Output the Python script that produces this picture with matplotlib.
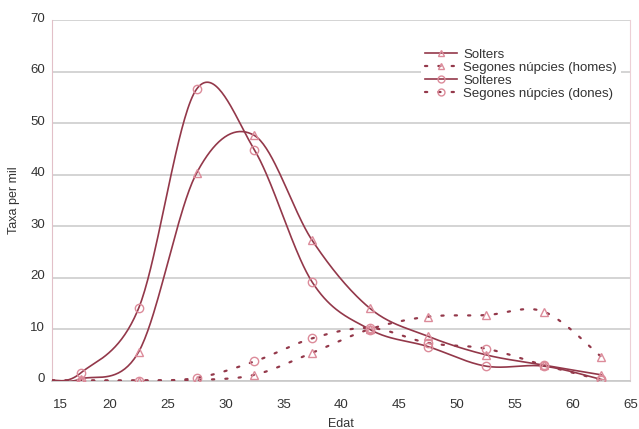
import numpy as np
import matplotlib
matplotlib.use('Agg')
import matplotlib.pyplot as plt
from matplotlib.transforms import ScaledTranslation

plt.rcParams['font.family'] = ['Liberation Sans', 'DejaVu Sans']

# edats (inclou l'inici de l'eix a 15, sense marcador)
edat = [15, 17.5, 22.5, 27.5, 32.5, 37.5, 42.5, 47.5, 52.5, 57.5, 62.5]

solters = [0, 0.3, 5.6, 40.3, 47.6, 27.2, 14.0, 8.6, 5.0, 3.0, 1.1]
segones_homes = [0, 0, 0, 0.1, 1.1, 5.4, 10.0, 12.4, 12.7, 13.4, 4.6]
solteres = [0, 1.5, 14.1, 56.6, 44.8, 19.1, 9.9, 6.6, 2.8, 2.8, 0.2]
segones_dones = [0, 0, 0, 0.5, 3.7, 8.2, 10.2, 7.3, 6.2, 3.0, 0.1]

etiquetes = ['Solters', 'Segones núpcies (homes)', 'Solteres', 'Segones núpcies (dones)']

line_col = '#93384a'
mark_col = '#dc8b9a'


def suavitza(x, y, n=40):
    # corba suavitzada tipus Excel (bezier cubic, tensio 1/6)
    p = np.column_stack([x, y]).astype(float)
    p = np.vstack([p[0], p, p[-1]])
    out = []
    t = np.linspace(0, 1, n)[:, None]
    for i in range(1, len(p) - 2):
        p0, p1 = p[i], p[i + 1]
        c1 = p0 + (p[i + 1] - p[i - 1]) / 6
        c2 = p1 - (p[i + 2] - p[i]) / 6
        seg = (1 - t)**3 * p0 + 3 * (1 - t)**2 * t * c1 + 3 * (1 - t) * t**2 * c2 + t**3 * p1
        out.append(seg)
    out = np.vstack(out)
    return out[:, 0], out[:, 1]


fig = plt.figure(figsize=(6.39, 4.29), dpi=100)
ax = fig.add_axes([0.0814, 0.113, 0.905, 0.840])

series = [(solters, '-', '^'), (segones_homes, (0, (1, 5)), '^'),
          (solteres, '-', 'o'), (segones_dones, (0, (1, 5)), 'o')]

for (vals, ls, mk), lab in zip(series, etiquetes):
    xs, ys = suavitza(edat, vals)
    lw = 1.2 if ls == '-' else 1.6
    ax.plot(xs, ys, color=line_col, lw=lw, ls=ls, dash_capstyle='round', zorder=3)
    ax.plot(edat[1:], vals[1:], ls='none', marker=mk, ms=6, mfc='none',
            mec=mark_col, mew=1.0, zorder=4)
    # entrada de llegenda
    ax.plot([], [], color=line_col, lw=lw, ls=ls, dash_capstyle='round',
            marker=mk, ms=5, mfc='none', mec=mark_col, mew=1.0, label=lab)

ax.set_xlim(15, 65)
ax.set_ylim(0, 70)
ax.set_xticks(range(15, 70, 5))
ax.set_yticks(range(0, 80, 10))
ax.grid(axis='y', color='#cdcdcd', lw=1.2, zorder=0)
ax.tick_params(length=0, labelsize=9.5, colors='#333333')
ax.tick_params(axis='x', pad=13)
ax.tick_params(axis='y', pad=5)

# desplaçaments petits de les etiquetes com a l'original
fig.canvas.draw()
ax.get_xticklabels()[0].set_transform(
    ax.get_xticklabels()[0].get_transform() + ScaledTranslation(8 / 100, 0, fig.dpi_scale_trans))
for lbl in ax.get_yticklabels():
    lbl.set_transform(lbl.get_transform() + ScaledTranslation(0, 3 / 100, fig.dpi_scale_trans))

ax.spines['top'].set_visible(False)
ax.spines['left'].set_color('#e2c0c8')
ax.spines['right'].set_color('#ecd0d6')
ax.spines['bottom'].set_color('#c8c8c8')
ax.spines['bottom'].set_linewidth(1.2)

ax.set_xlabel('Edat', fontsize=9, color='#333333', labelpad=5)
ax.set_ylabel('Taxa per mil', fontsize=9, color='#333333', labelpad=7)

leg = ax.legend(loc='upper right', bbox_to_anchor=(0.995, 0.95), fontsize=9.5,
                frameon=True, framealpha=1, edgecolor='none', fancybox=False,
                handlelength=2.4, handletextpad=0.5, labelspacing=0.05,
                borderpad=0.3)
for t in leg.get_texts():
    t.set_color('#333333')

fig.savefig('out.png', dpi=100)
